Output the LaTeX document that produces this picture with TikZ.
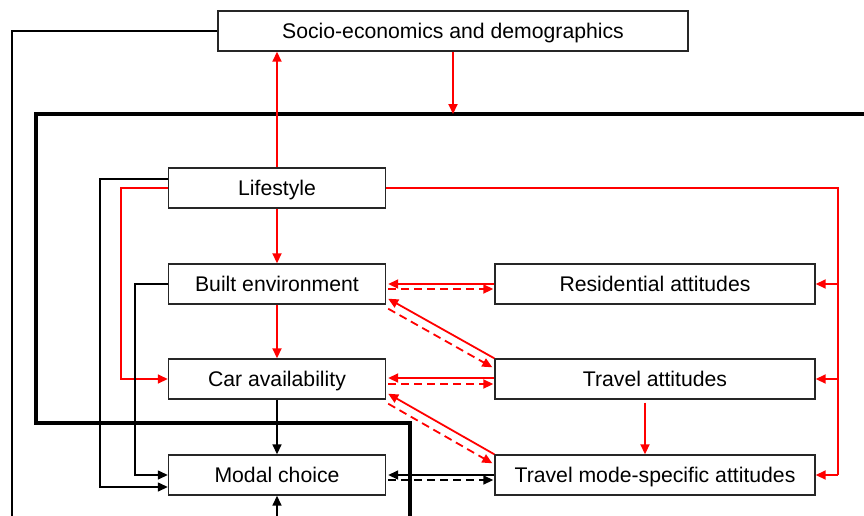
\documentclass[tikz,border=0pt]{standalone}
\usepackage{fontspec}
\setmainfont{Liberation Sans}
\usetikzlibrary{arrows.meta,calc}
\begin{document}
\begin{tikzpicture}[x=1pt,y=-1pt,
  box/.style={draw=black!85,line width=1.4pt,fill=white,minimum height=40pt,inner sep=0pt,text height=17pt,text depth=2pt,font=\fontsize{21.2}{24}\selectfont},
  sbox/.style={box,minimum width=217pt},
  rbox/.style={box,minimum width=320pt},
  tip/.style={-{Triangle[length=10pt,width=9pt]}},
  redarr/.style={red,line width=1.8pt,tip},
  redline/.style={red,line width=1.8pt},
  blkarr/.style={black,line width=1.6pt,tip},
  blkline/.style={black,line width=1.4pt},
  dsh/.style={dash pattern=on 8pt off 5pt},
  thick line/.style={black,line width=3.5pt}]
\clip (0,0) rectangle (864,515);
\fill[white] (0,0) rectangle (864,515);
% free ends
\coordinate (tr) at (880,114);
\coordinate (tl) at (36,114);
\coordinate (bl) at (36,423);
\coordinate (br) at (410,423);
\coordinate (bb) at (410,530);
\coordinate (sl) at (12,31);
\coordinate (sb) at (12,530);
\coordinate (mb) at (277,530);
\coordinate (rbus) at (838,300);
% frames
\draw[thick line,line join=miter] (tr) -- (tl) -- (bl) -- (br) -- (bb);
% nodes
\node[box,minimum width=470pt] (se) at (453,31) {Socio-economics and demographics};
\node[sbox] (ls) at (277,188) {Lifestyle};
\node[sbox] (be) at (277,284) {Built environment};
\node[sbox] (ca) at (277,379) {Car availability};
\node[sbox] (mc) at (277,475) {Modal choice};
\node[rbox] (ra) at (655,284) {Residential attitudes};
\node[rbox] (ta) at (655,379) {Travel attitudes};
\node[rbox] (tm) at (655,475) {Travel mode-specific attitudes};
\coordinate (sx) at (453,114);
% socio links
\draw[blkline] (se.west) -- (sl) -- (sb);
\draw[redarr] (ls.north) -- (se.south -| ls.north);
\draw[redarr] (se.south -| sx) -- (sx);
% vertical chain
\draw[redarr] (ls.south) -- (be.north);
\draw[redarr] (be.south) -- (ca.north);
\draw[blkarr] (ca.south) -- (mc.north);
\draw[blkarr] (mb) -- (mc.south);
\draw[redarr] ($(ta.south)+(-10,3)$) -- ($(tm.north)+(-10,0)$);
% left loops
\draw[blkarr,line width=1.4pt] ($(ls.west)+(0,-9)$) -- ++(-68,0) |- ($(mc.west)+(0,12)$);
\draw[redarr,line width=1.6pt] (ls.west) -- ++(-47,0) |- (ca.west);
\draw[blkarr,line width=1.4pt] (be.west) -- ++(-33,0) |- (mc.west);
% right bus
\draw[redline] (ls.east) -| (rbus |- tm.east);
\draw[redarr] (rbus |- ra.east) -- (ra.east);
\draw[redarr] (rbus |- ta.east) -- (ta.east);
\draw[redarr] (rbus |- tm.east) -- (tm.east);
% horizontal pairs
\draw[redarr] (ra.west) -- ($(be.east)+(2,0)$);
\draw[redarr,dsh] ($(be.east)+(2,5)$) -- ($(ra.west)+(-1,5)$);
\draw[redarr] ($(ta.west)+(0,-1)$) -- ($(ca.east)+(2,-1)$);
\draw[redarr,dsh] ($(ca.east)+(2,5)$) -- ($(ta.west)+(-1,5)$);
\draw[blkarr] (tm.west) -- ($(mc.east)+(2,0)$);
\draw[blkarr,dsh] ($(mc.east)+(2,5)$) -- ($(tm.west)+(-1,5)$);
% diagonals
\draw[redarr] (ta.north west) -- ($(be.south east)+(2,-6)$);
\draw[redarr,dsh] ($(be.south east)+(2,4)$) -- ($(ta.north west)+(-2,9)$);
\draw[redarr] (tm.north west) -- ($(ca.south east)+(2,-6)$);
\draw[redarr,dsh] ($(ca.south east)+(2,4)$) -- ($(tm.north west)+(-2,9)$);
\end{tikzpicture}
\end{document}
